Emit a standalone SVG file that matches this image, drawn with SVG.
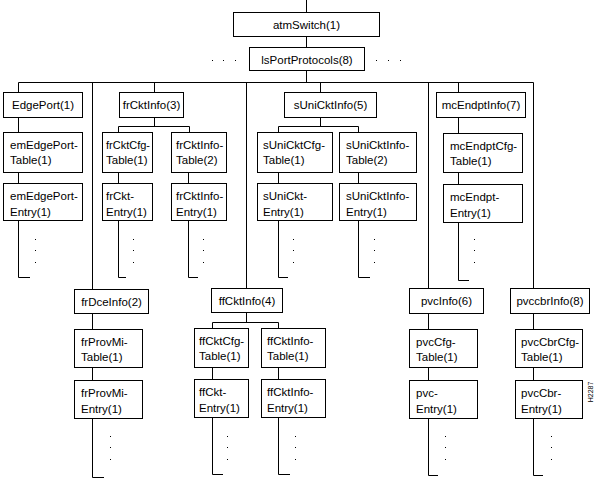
<svg xmlns="http://www.w3.org/2000/svg" width="596" height="479" viewBox="0 0 596 479">
<style>
rect{fill:#fff;stroke:#000;stroke-width:1}
#connectors path{fill:none;stroke:#000;stroke-width:1}
text{font-family:"Liberation Sans",Arial,sans-serif;font-size:11.5px;fill:#000}
.c{text-anchor:middle}
.dot{stroke:none !important;fill:#000 !important}
</style>
<rect x="0" y="0" width="596" height="479" style="stroke:none"/>
<g id="connectors">
<path d="M306.5,0V12.5M306.5,36.5V47.5M306.5,70.5V82.5"/>
<path d="M18.5,82.5H533.5"/>
<path d="M18.5,82.5V92.5M92.5,82.5V289.5M154.5,82.5V92.5M246.5,82.5V288.5M320.5,82.5V92.5M428.5,82.5V288.5M458.5,82.5V92.5M533.5,82.5V288.5"/>
<path d="M18.5,117.5V132.5M18.5,172.5V183.5M18.5,220.5V277.5H30"/>
<path d="M154.5,117.5V126.5M118.5,126.5H189.5M118.5,126.5V132.5M189.5,126.5V132.5M118.5,172.5V183.5M118.5,220.5V277.5H126M188.5,172.5V183.5M188.5,220.5V277.5H198"/>
<path d="M320.5,117.5V126.5M278.5,126.5H358.5M278.5,126.5V132.5M358.5,126.5V132.5M278.5,172.5V183.5M278.5,220.5V277.5H288M358.5,172.5V183.5M358.5,220.5V277.5H370"/>
<path d="M458.5,117.5V133.5M458.5,172.5V184.5M458.5,222.5V280.5H469"/>
<path d="M92.5,313.5V329.5M92.5,367.5V380.5M92.5,418.5V477.5H104"/>
<path d="M246.5,312.5V322.5M212.5,322.5H278.5M212.5,322.5V328.5M278.5,322.5V328.5M212.5,367.5V379.5M212.5,417.5V474.5H223M278.5,367.5V379.5M278.5,417.5V474.5H290"/>
<path d="M428.5,313.5V329.5M428.5,367.5V380.5M428.5,418.5V475.5H438"/>
<path d="M533.5,313.5V329.5M533.5,367.5V380.5M533.5,418.5V475.5H543"/>
</g>
<defs>
<g id="vd"><rect class="dot" x="0" y="0" width="1" height="1"/><rect class="dot" x="0" y="11" width="1" height="1"/><rect class="dot" x="0" y="23" width="1" height="1"/></g>
</defs>
<g id="dots">
<rect class="dot" x="212" y="60" width="1" height="1"/><rect class="dot" x="223" y="60" width="1" height="1"/><rect class="dot" x="235" y="60" width="1" height="1"/>
<rect class="dot" x="376" y="60" width="1" height="1"/><rect class="dot" x="388" y="60" width="1" height="1"/><rect class="dot" x="400" y="60" width="1" height="1"/>
<use href="#vd" x="35" y="239"/><use href="#vd" x="133" y="239"/><use href="#vd" x="203" y="239"/><use href="#vd" x="293" y="239"/><use href="#vd" x="374" y="239"/><use href="#vd" x="474" y="239"/>
<use href="#vd" x="110" y="436"/><use href="#vd" x="227" y="436"/><use href="#vd" x="295" y="436"/><use href="#vd" x="445" y="436"/><use href="#vd" x="551" y="436"/>
</g>

<g id="atmSwitch"><rect x="233.5" y="12.5" width="146" height="24"/><text class="c" x="306.5" y="29">atmSwitch(1)</text></g>
<g id="lsPortProtocols"><rect x="249.5" y="47.5" width="115" height="23"/><text class="c" x="307" y="63.5">lsPortProtocols(8)</text></g>

<g id="EdgePort"><rect x="3.5" y="92.5" width="79" height="25"/><text class="c" x="43" y="109">EdgePort(1)</text></g>
<g id="frCktInfo"><rect x="119.5" y="92.5" width="64" height="25"/><text class="c" x="151.5" y="109">frCktInfo(3)</text></g>
<g id="sUniCktInfo"><rect x="284.5" y="92.5" width="92" height="25"/><text class="c" x="330.5" y="109">sUniCktInfo(5)</text></g>
<g id="mcEndptInfo"><rect x="436.5" y="92.5" width="89" height="25"/><text class="c" x="481" y="109">mcEndptInfo(7)</text></g>

<g id="emEdgePortTable"><rect x="3.5" y="132.5" width="79" height="40"/><text x="10" y="149">emEdgePort-</text><text x="10" y="164">Table(1)</text></g>
<g id="emEdgePortEntry"><rect x="3.5" y="183.5" width="79" height="37"/><text x="10" y="200">emEdgePort-</text><text x="10" y="216">Entry(1)</text></g>
<g id="frCktCfgTable"><rect x="102.5" y="132.5" width="50" height="40"/><text x="106" y="149" textLength="44" lengthAdjust="spacingAndGlyphs">frCktCfg-</text><text x="106" y="164">Table(1)</text></g>
<g id="frCktEntry"><rect x="102.5" y="183.5" width="50" height="37"/><text x="106" y="200">frCkt-</text><text x="106" y="216">Entry(1)</text></g>
<g id="frCktInfoTable"><rect x="171.5" y="132.5" width="55" height="40"/><text x="176" y="149">frCktInfo-</text><text x="176" y="164">Table(2)</text></g>
<g id="frCktInfoEntry"><rect x="171.5" y="183.5" width="55" height="37"/><text x="176" y="200">frCktInfo-</text><text x="176" y="216">Entry(1)</text></g>
<g id="sUniCktCfgTable"><rect x="257.5" y="132.5" width="75" height="40"/><text x="263" y="149">sUniCktCfg-</text><text x="263" y="164">Table(1)</text></g>
<g id="sUniCktEntry"><rect x="257.5" y="183.5" width="75" height="37"/><text x="263" y="200">sUniCkt-</text><text x="263" y="216">Entry(1)</text></g>
<g id="sUniCktInfoTable"><rect x="339.5" y="132.5" width="77" height="40"/><text x="346" y="149">sUniCktInfo-</text><text x="346" y="164">Table(2)</text></g>
<g id="sUniCktInfoEntry"><rect x="339.5" y="183.5" width="77" height="37"/><text x="346" y="200">sUniCktInfo-</text><text x="346" y="216">Entry(1)</text></g>
<g id="mcEndptCfgTable"><rect x="443.5" y="133.5" width="79" height="39"/><text x="450" y="150">mcEndptCfg-</text><text x="450" y="165">Table(1)</text></g>
<g id="mcEndptEntry"><rect x="443.5" y="184.5" width="79" height="38"/><text x="450" y="201">mcEndpt-</text><text x="450" y="217">Entry(1)</text></g>

<g id="frDceInfo"><rect x="74.5" y="289.5" width="74" height="24"/><text class="c" x="111.5" y="306">frDceInfo(2)</text></g>
<g id="frProvMiTable"><rect x="74.5" y="329.5" width="68" height="38"/><text x="81" y="346">frProvMi-</text><text x="81" y="361">Table(1)</text></g>
<g id="frProvMiEntry"><rect x="74.5" y="380.5" width="68" height="38"/><text x="81" y="397">frProvMi-</text><text x="81" y="413">Entry(1)</text></g>
<g id="ffCktInfo"><rect x="211.5" y="288.5" width="71" height="24"/><text class="c" x="247" y="305">ffCktInfo(4)</text></g>
<g id="ffCktCfgTable"><rect x="194.5" y="328.5" width="54" height="39"/><text x="199" y="345">ffCktCfg-</text><text x="199" y="360">Table(1)</text></g>
<g id="ffCktEntry"><rect x="194.5" y="379.5" width="54" height="38"/><text x="199" y="396">ffCkt-</text><text x="199" y="412">Entry(1)</text></g>
<g id="ffCktInfoTable"><rect x="261.5" y="328.5" width="64" height="39"/><text x="267" y="345">ffCktInfo-</text><text x="267" y="360">Table(1)</text></g>
<g id="ffCktInfoEntry"><rect x="261.5" y="379.5" width="64" height="38"/><text x="267" y="396">ffCktInfo-</text><text x="267" y="412">Entry(1)</text></g>
<g id="pvcInfo"><rect x="409.5" y="288.5" width="74" height="25"/><text class="c" x="446.5" y="305">pvcInfo(6)</text></g>
<g id="pvcCfgTable"><rect x="409.5" y="329.5" width="68" height="38"/><text x="416" y="346">pvcCfg-</text><text x="416" y="361">Table(1)</text></g>
<g id="pvcEntry"><rect x="409.5" y="380.5" width="68" height="38"/><text x="416" y="397">pvc-</text><text x="416" y="413">Entry(1)</text></g>
<g id="pvccbrInfo"><rect x="510.5" y="288.5" width="79" height="25"/><text class="c" x="550" y="305">pvccbrInfo(8)</text></g>
<g id="pvcCbrCfgTable"><rect x="515.5" y="329.5" width="67" height="38"/><text x="521" y="346">pvcCbrCfg-</text><text x="521" y="361">Table(1)</text></g>
<g id="pvcCbrEntry"><rect x="515.5" y="380.5" width="67" height="38"/><text x="521" y="397">pvcCbr-</text><text x="521" y="413">Entry(1)</text></g>

<text x="0" y="0" transform="translate(593,392) rotate(-90)" class="c" style="font-size:7px">H2287</text>
</svg>
